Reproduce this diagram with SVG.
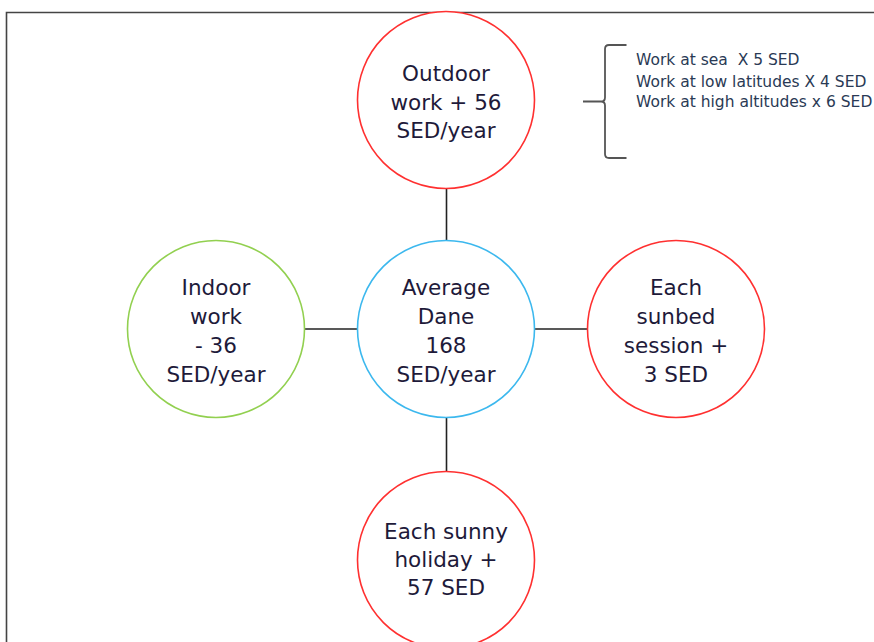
<svg xmlns="http://www.w3.org/2000/svg" width="874" height="642" viewBox="0 0 874 642">
<style>
.node{fill:#fff;stroke-width:1.6}
.red{stroke:#ff3030}
.blue{stroke:#3cb8ee}
.green{stroke:#92d050}
.lbl{font-family:"DejaVu Sans",Verdana,sans-serif;font-size:21.5px;fill:#1e1a3a;text-anchor:middle}
.note{font-family:"DejaVu Sans",Verdana,sans-serif;font-size:15.5px;fill:#2a3a55}
.conn{stroke:#222;stroke-width:1.6;fill:none}
</style>
<rect x="0" y="0" width="874" height="642" fill="#fff"/>
<path d="M6.5,642 V12.5 H874" fill="none" stroke="#444" stroke-width="1.6"/>
<g id="connectors">
<line class="conn" x1="446.5" y1="188" x2="446.5" y2="241"/>
<line class="conn" x1="446.5" y1="417" x2="446.5" y2="472"/>
<line class="conn" x1="305" y1="329" x2="358" y2="329"/>
<line class="conn" x1="535" y1="329" x2="588" y2="329"/>
</g>
<g id="outdoor">
<circle class="node red" cx="446" cy="100" r="88.5"/>
<text class="lbl" x="446" y="81">Outdoor</text>
<text class="lbl" x="446" y="109.5">work + 56</text>
<text class="lbl" x="446" y="137.5">SED/year</text>
</g>
<g id="average">
<circle class="node blue" cx="446" cy="329" r="88.5"/>
<text class="lbl" x="446" y="295">Average</text>
<text class="lbl" x="446" y="323.5">Dane</text>
<text class="lbl" x="446" y="352.5">168</text>
<text class="lbl" x="446" y="381.5">SED/year</text>
</g>
<g id="indoor">
<circle class="node green" cx="216" cy="329" r="88.5"/>
<text class="lbl" x="216" y="295">Indoor</text>
<text class="lbl" x="216" y="323.5">work</text>
<text class="lbl" x="216" y="352.5">- 36</text>
<text class="lbl" x="216" y="381.5">SED/year</text>
</g>
<g id="sunbed">
<circle class="node red" cx="676" cy="329" r="88.5"/>
<text class="lbl" x="676" y="295">Each</text>
<text class="lbl" x="676" y="323.5">sunbed</text>
<text class="lbl" x="676" y="352.5">session +</text>
<text class="lbl" x="676" y="381.5">3 SED</text>
</g>
<g id="holiday">
<circle class="node red" cx="446" cy="560" r="88.5"/>
<text class="lbl" x="446" y="539">Each sunny</text>
<text class="lbl" x="446" y="567">holiday +</text>
<text class="lbl" x="446" y="595">57 SED</text>
</g>
<g id="note">
<path d="M626.5,45 H609 Q605,45 605,49 V97.5 Q605,101.5 601,101.5 H583 M601,101.5 Q605,101.5 605,105.5 V154 Q605,158 609,158 H626.5" fill="none" stroke="#555" stroke-width="1.8"/>
<text class="note" x="636" y="65">Work at sea&#160; X 5 SED</text>
<text class="note" x="636" y="86.5">Work at low latitudes X 4 SED</text>
<text class="note" x="636" y="107">Work at high altitudes x 6 SED</text>
</g>
</svg>
